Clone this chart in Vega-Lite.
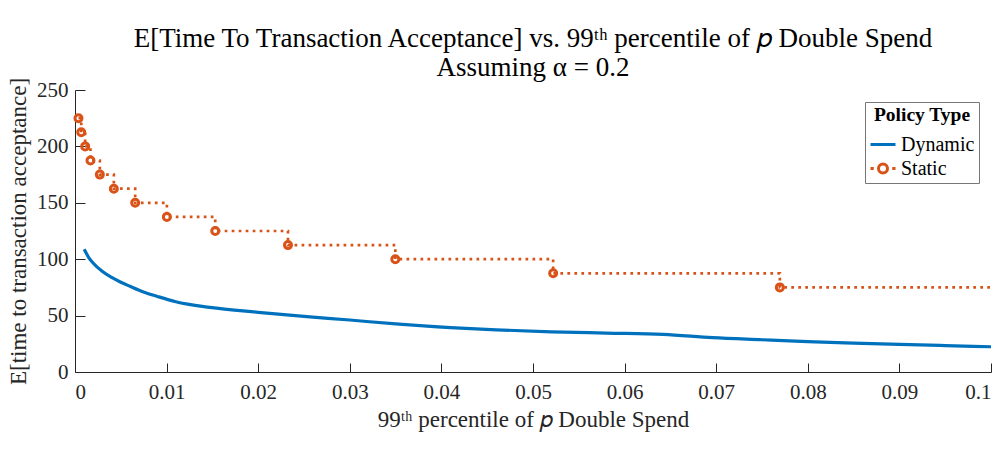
{
  "$schema": "https://vega.github.io/schema/vega-lite/v6.json",
  "width": 916,
  "height": 282,
  "autosize": {"type": "none"},
  "padding": {"left": 75, "top": 90, "right": 13, "bottom": 80},
  "background": "white",
  "title": {
    "text": "E[Time To Transaction Acceptance] vs. 99ᵗʰ percentile of 𝑝 Double Spend",
    "subtitle": "Assuming α = 0.2",
    "font": "Liberation Serif",
    "fontSize": 27,
    "fontWeight": "normal",
    "color": "#000000",
    "subtitleFont": "Liberation Serif",
    "subtitleFontSize": 27,
    "subtitleColor": "#000000",
    "subtitlePadding": 2,
    "offset": -5,
    "anchor": "middle",
    "frame": "group"
  },
  "datasets": {
    "curves": [
      {"policy": "Dynamic", "x": 0.001, "y": 108.8},
      {"policy": "Dynamic", "x": 0.0015, "y": 101.5},
      {"policy": "Dynamic", "x": 0.002, "y": 96.4},
      {"policy": "Dynamic", "x": 0.003, "y": 89.0},
      {"policy": "Dynamic", "x": 0.004, "y": 83.8},
      {"policy": "Dynamic", "x": 0.005, "y": 79.6},
      {"policy": "Dynamic", "x": 0.006, "y": 76.0},
      {"policy": "Dynamic", "x": 0.0074, "y": 71.2},
      {"policy": "Dynamic", "x": 0.009, "y": 67.0},
      {"policy": "Dynamic", "x": 0.011, "y": 62.3},
      {"policy": "Dynamic", "x": 0.0147, "y": 57.3},
      {"policy": "Dynamic", "x": 0.02, "y": 52.9},
      {"policy": "Dynamic", "x": 0.025, "y": 49.3},
      {"policy": "Dynamic", "x": 0.03, "y": 46.1},
      {"policy": "Dynamic", "x": 0.035, "y": 42.6},
      {"policy": "Dynamic", "x": 0.041, "y": 39.3},
      {"policy": "Dynamic", "x": 0.046, "y": 37.4},
      {"policy": "Dynamic", "x": 0.052, "y": 35.6},
      {"policy": "Dynamic", "x": 0.058, "y": 34.5},
      {"policy": "Dynamic", "x": 0.0642, "y": 33.4},
      {"policy": "Dynamic", "x": 0.0696, "y": 30.5},
      {"policy": "Dynamic", "x": 0.075, "y": 28.6},
      {"policy": "Dynamic", "x": 0.08, "y": 26.9},
      {"policy": "Dynamic", "x": 0.085, "y": 25.6},
      {"policy": "Dynamic", "x": 0.09, "y": 24.5},
      {"policy": "Dynamic", "x": 0.095, "y": 23.4},
      {"policy": "Dynamic", "x": 0.1, "y": 22.4},
      {"policy": "Static", "x": 0.00038, "y": 225},
      {"policy": "Static", "x": 0.00068, "y": 212.5},
      {"policy": "Static", "x": 0.00111, "y": 200},
      {"policy": "Static", "x": 0.00169, "y": 187.5},
      {"policy": "Static", "x": 0.00271, "y": 175},
      {"policy": "Static", "x": 0.00424, "y": 162.5},
      {"policy": "Static", "x": 0.00657, "y": 150},
      {"policy": "Static", "x": 0.01003, "y": 137.5},
      {"policy": "Static", "x": 0.01531, "y": 125},
      {"policy": "Static", "x": 0.02325, "y": 112.5},
      {"policy": "Static", "x": 0.03497, "y": 100},
      {"policy": "Static", "x": 0.0522, "y": 87.5},
      {"policy": "Static", "x": 0.07695, "y": 75},
      {"policy": "Static", "x": 0.1, "y": 75}
    ]
  },
  "data": {"name": "curves"},
  "encoding": {
    "x": {
      "field": "x",
      "type": "quantitative",
      "scale": {"domain": [0, 0.1], "nice": false, "zero": false},
      "axis": {
        "title": "99ᵗʰ percentile of 𝑝 Double Spend",
        "values": [0, 0.01, 0.02, 0.03, 0.04, 0.05, 0.06, 0.07, 0.08, 0.09, 0.1],
        "format": "~g",
        "tickSize": -9,
        "labelPadding": 18,
        "titlePadding": 6
      }
    },
    "y": {
      "field": "y",
      "type": "quantitative",
      "scale": {"domain": [0, 250], "nice": false},
      "axis": {
        "title": "E[time to transaction acceptance]",
        "values": [0, 50, 100, 150, 200, 250],
        "tickSize": -10,
        "labelPadding": 17,
        "titlePadding": 6
      }
    },
    "color": {
      "field": "policy",
      "type": "nominal",
      "title": "Policy Type",
      "scale": {"domain": ["Dynamic", "Static"], "range": ["#0072BD", "#D95319"]}
    }
  },
  "layer": [
    {
      "transform": [{"filter": "datum.policy === 'Dynamic'"}],
      "mark": {"type": "line", "strokeWidth": 3.2, "interpolate": "monotone", "clip": true}
    },
    {
      "transform": [{"filter": "datum.policy === 'Static'"}],
      "mark": {"type": "line", "strokeWidth": 2.7, "interpolate": "step-after", "strokeDash": [2.7, 4.3], "strokeCap": "butt", "clip": true}
    },
    {
      "transform": [{"filter": "datum.policy === 'Static' && datum.x < 0.1"}],
      "mark": {"type": "point", "shape": "circle", "filled": false, "size": 49, "strokeWidth": 3, "opacity": 1}
    },
    {
      "transform": [{"filter": "false"}],
      "mark": {"type": "point", "filled": false, "strokeWidth": 3, "opacity": 1},
      "encoding": {
        "shape": {
          "field": "policy",
          "type": "nominal",
          "title": "Policy Type",
          "scale": {
            "domain": ["Dynamic", "Static"],
            "range": ["stroke", "M-1,0H-0.74M0.74,0H1M0.36,0A0.36,0.36 0 1,1 -0.36,0A0.36,0.36 0 1,1 0.36,0"]
          }
        }
      }
    }
  ],
  "config": {
    "view": {"stroke": null},
    "font": "Liberation Serif",
    "axis": {
      "grid": false,
      "domainColor": "#262626",
      "tickColor": "#262626",
      "labelColor": "#262626",
      "titleColor": "#262626",
      "labelFont": "Liberation Serif",
      "labelFontSize": 21,
      "titleFont": "Liberation Serif",
      "titleFontSize": 23,
      "titleFontWeight": "normal",
      "domainWidth": 1,
      "tickWidth": 1
    },
    "legend": {
      "orient": "top-right",
      "offset": 12,
      "titleFont": "Liberation Serif",
      "titleFontSize": 19.5,
      "titleFontWeight": "bold",
      "titleColor": "#000000",
      "titleAnchor": "middle",
      "titlePadding": 5,
      "labelFont": "Liberation Serif",
      "labelFontSize": 20,
      "labelColor": "#000000",
      "labelOffset": 4,
      "fillColor": "white",
      "strokeColor": "#777777",
      "padding": 4,
      "symbolSize": 625,
      "symbolStrokeWidth": 3,
      "rowPadding": 0
    }
  }
}
